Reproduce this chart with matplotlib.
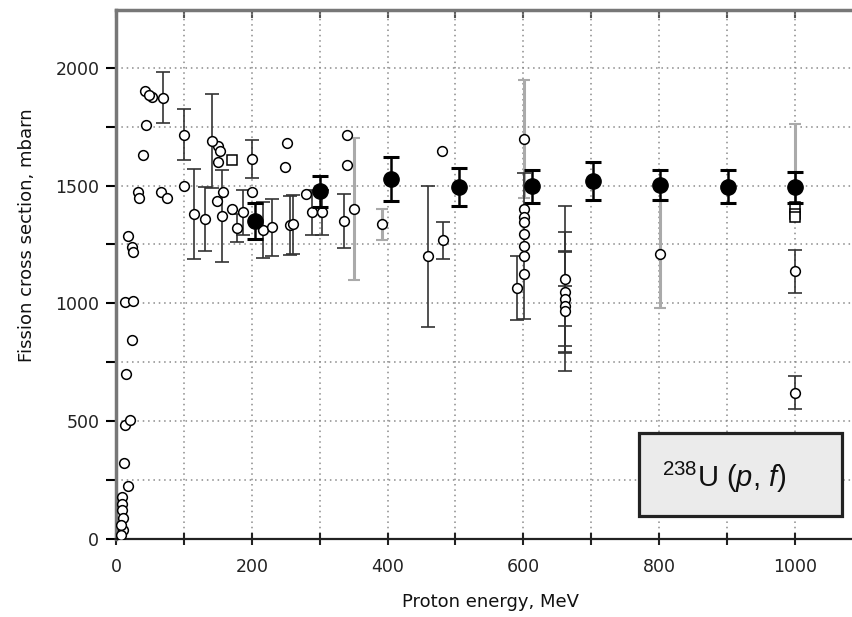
import matplotlib
matplotlib.use("Agg")
import matplotlib.pyplot as plt
from matplotlib.ticker import MultipleLocator
from matplotlib.patches import Rectangle

plt.rcParams['mathtext.fontset'] = 'custom'
plt.rcParams['mathtext.rm'] = 'Liberation Sans'
plt.rcParams['mathtext.it'] = 'Liberation Sans:italic'

# Open symbols without error bars
open_E = [43, 53, 48, 44, 40, 33, 34, 67, 75, 100, 150, 153, 150, 149, 158, 171,
          200, 252, 249, 280, 340, 340, 480, 18, 24, 25, 13, 25, 23, 15, 13, 21,
          12, 18, 9, 9, 9, 10, 10, 7, 8,
          601, 601, 601, 601, 601, 601]
open_S = [1902, 1877, 1885, 1757, 1630, 1472, 1447, 1472, 1447, 1498, 1668, 1647, 1600, 1434, 1472, 1400,
          1472, 1681, 1579, 1464, 1715, 1587, 1647, 1285, 1238, 1217, 1004, 1008, 843, 702, 485, 506,
          323, 226, 179, 150, 123, 89, 38, 60, 15,
          1400, 1366, 1345, 1294, 1200, 1123]

# Open squares
sq_E = [171, 1000, 1000, 1000]
sq_S = [1609, 1409, 1379, 1366]

# Open symbols with black error bars
eb_E = [69, 100, 115, 131, 141, 156, 178, 187, 200, 216, 230, 256, 261, 289, 303, 336,
        460, 482, 590, 601, 661, 661, 661, 661, 661, 1000, 1000]
eb_S = [1872, 1715, 1379, 1357, 1689, 1370, 1319, 1387, 1613, 1311, 1323, 1332, 1336, 1387, 1387, 1349,
        1200, 1268, 1064, 1243, 1102, 1047, 1017, 987, 966, 1136, 621]
eb_err = [108, 108, 190, 135, 200, 195, 60, 95, 80, 120, 120, 125, 125, 95, 95, 115,
          300, 78, 135, 310, 311, 255, 200, 85, 255, 90, 70]

# Open symbols with grey error bars
gb_E = [351, 392, 601, 801]
gb_S = [1400, 1336, 1698, 1209]
gb_err = [300, 65, 250, 230]

# grey bar at 1000 MeV (asymmetric)
g1000_E = [1000]
g1000_S = [1498]
g1000_lo = [120]
g1000_hi = [264]

# Closed symbols (present data)
cl_E = [205, 300, 405, 505, 612, 703, 801, 901, 1000]
cl_S = [1350, 1475, 1528, 1494, 1498, 1519, 1502, 1494, 1492]
cl_err = [75, 65, 95, 80, 70, 80, 65, 70, 65]

W, H = 852, 617
fig = plt.figure(figsize=(W/100, H/100), dpi=100)
ax = fig.add_axes([116/W, 1-539/H, 1-116/W, (539-10)/H])

ax.set_xlim(0, 1084)
ax.set_ylim(0, 2245)

ax.xaxis.set_major_locator(MultipleLocator(200))
ax.xaxis.set_minor_locator(MultipleLocator(100))
ax.yaxis.set_major_locator(MultipleLocator(500))
ax.yaxis.set_minor_locator(MultipleLocator(250))

ax.grid(True, which='both', linestyle=(0, (1, 2.5)), color='#8a8a8a', linewidth=1.1)
ax.set_axisbelow(True)

# grey error bars
ax.errorbar(gb_E, gb_S, yerr=gb_err, fmt='none', ecolor='#aaaaaa', elinewidth=2.2,
            capsize=4, capthick=1.5, zorder=2)
ax.errorbar(g1000_E, g1000_S, yerr=[g1000_lo, g1000_hi], fmt='none', ecolor='#aaaaaa',
            elinewidth=2.2, capsize=4, capthick=1.5, zorder=2)

# black error bars
ax.errorbar(eb_E, eb_S, yerr=eb_err, fmt='none', ecolor='#333333', elinewidth=1.2,
            capsize=5, capthick=1.2, zorder=3)

mk = dict(markerfacecolor='white', markeredgecolor='black', markeredgewidth=1.1, linestyle='none')
ax.plot(open_E, open_S, 'o', markersize=7, zorder=4, **mk)
ax.plot(eb_E, eb_S, 'o', markersize=7, zorder=4, **mk)
ax.plot(gb_E, gb_S, 'o', markersize=7, zorder=4, **mk)
ax.plot(sq_E, sq_S, 's', markersize=6.5, zorder=4, **mk)

ax.errorbar(cl_E, cl_S, yerr=cl_err, fmt='o', color='black', markersize=11,
            elinewidth=1.8, capsize=6, capthick=2.2, zorder=5)

for s in ['left', 'top']:
    ax.spines[s].set_color('#777777')
    ax.spines[s].set_linewidth(2.5)
ax.spines['bottom'].set_color('#222222')
ax.spines['bottom'].set_linewidth(1.6)
ax.spines['right'].set_visible(False)

ax.tick_params(axis='y', which='both', direction='out', length=7, width=1.5,
               color='black', labelsize=12.5, labelcolor='#222222', right=False, pad=5)
ax.tick_params(axis='x', which='both', direction='inout', length=9, width=1.5,
               color='#222222', labelsize=12.5, labelcolor='#222222', top=False, pad=9)

top = ax.secondary_xaxis('top')
top.xaxis.set_major_locator(MultipleLocator(200))
top.xaxis.set_minor_locator(MultipleLocator(100))
top.tick_params(axis='x', which='both', direction='in', length=6, width=1.5,
                color='#555555', labeltop=False)
top.spines['top'].set_visible(False)

ax.set_xlabel('Proton energy, MeV', fontsize=13, color='#111111')
ax.set_ylabel('Fission cross section, mbarn', fontsize=13, color='#111111')
ax.xaxis.set_label_coords((490-116)/736, (539-593)/529)
ax.yaxis.set_label_coords((36-116)/736, (539-235)/529)

# annotation box, placed in figure pixels
fig.patches.append(Rectangle((639/W, 1-516/H), (842-639)/W, (516-433)/H,
                             transform=fig.transFigure, facecolor='#ebebeb',
                             edgecolor='#222222', linewidth=2.3, zorder=6))
fig.text(724/W, 1-477/H, r'$^{238}$U ($p$, $f$)', fontsize=21, ha='center', va='center',
         color='#111111', family='Liberation Sans', zorder=7)

fig.savefig('out.png', dpi=100)
